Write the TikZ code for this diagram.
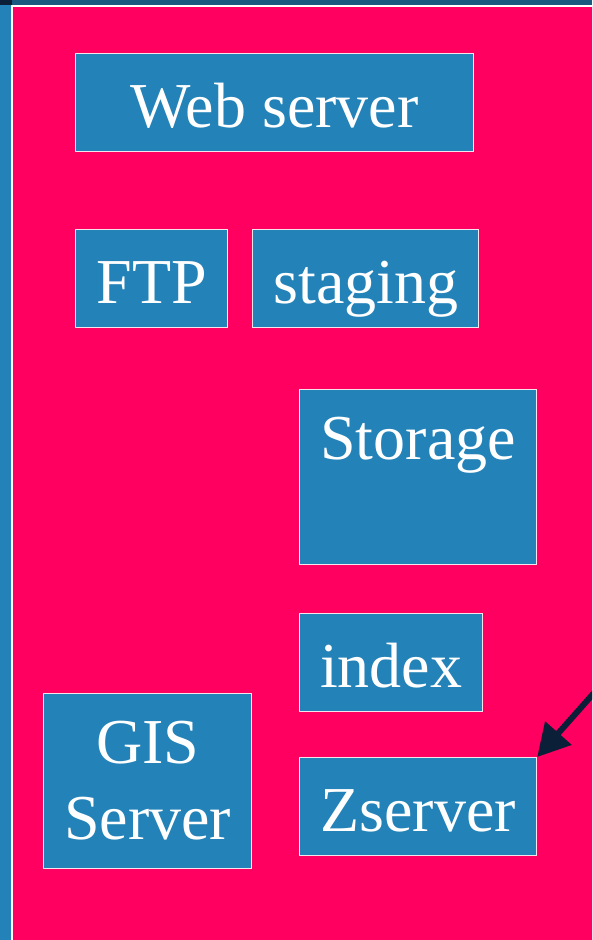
\documentclass[tikz,border=0pt]{standalone}
\usepackage{fontspec}
\setmainfont{Liberation Serif}
\usetikzlibrary{arrows.meta,positioning}
\definecolor{slidepink}{HTML}{FF0060}
\definecolor{boxblue}{HTML}{2383B8}
\definecolor{boxedge}{HTML}{F4E6EC}
\definecolor{topband}{HTML}{1B5A80}
\definecolor{arrowcol}{HTML}{0B1F38}

\begin{document}
\begin{tikzpicture}[x=1pt,y=-1pt,>={Triangle[length=32pt,width=34pt]}]
	\tikzstyle{box}=[draw=boxedge, line width=1.2pt, fill=boxblue, text=white, inner sep=0pt, anchor=north west, font=\fontsize{64}{76}\selectfont, text height=63pt, text depth=13pt]
	\tikzstyle{feedline}=[->, line width=6pt, draw=arrowcol, fill=arrowcol]

    \useasboundingbox (0,0) rectangle (592,940);
    \clip (0,0) rectangle (592,940);

    % slide backdrop
    \fill[boxblue] (0,0) rectangle (592,940);
    \fill[topband] (0,0) rectangle (592,5);
    \fill[arrowcol] (0,0) rectangle (12,5);
    \filldraw[fill=slidepink, draw=white, line width=1.6pt] (11.7,5.8) rectangle (620,970);

    \node [box, minimum width=398pt, minimum height=98pt] (web) at (75,53) {Web server};
    \node [box, minimum width=152pt, minimum height=98pt] (ftp) at (75,229) {FTP};
    \node [box, minimum width=226pt, minimum height=98pt, right=24pt of ftp.north east, anchor=north west] (staging) {staging};
    \node [box, minimum width=237pt, minimum height=175pt, text height=70pt, text depth=105pt] (storage) at (299,389) {Storage};
    \node [box, minimum width=183pt, minimum height=98pt] (index) at (299,613) {index};
    \node [box, minimum width=237pt, minimum height=98pt] (zserver) at (299,757) {Zserver};
    \node [box, minimum width=208pt, minimum height=175pt, text height=, text depth=, align=center, yshift=-3pt] (gis) at (43,690) {GIS\\Server};

    \coordinate (feed) at (640,641);
    \draw[feedline] (feed) -- (zserver.north east);
\end{tikzpicture}
\end{document}
